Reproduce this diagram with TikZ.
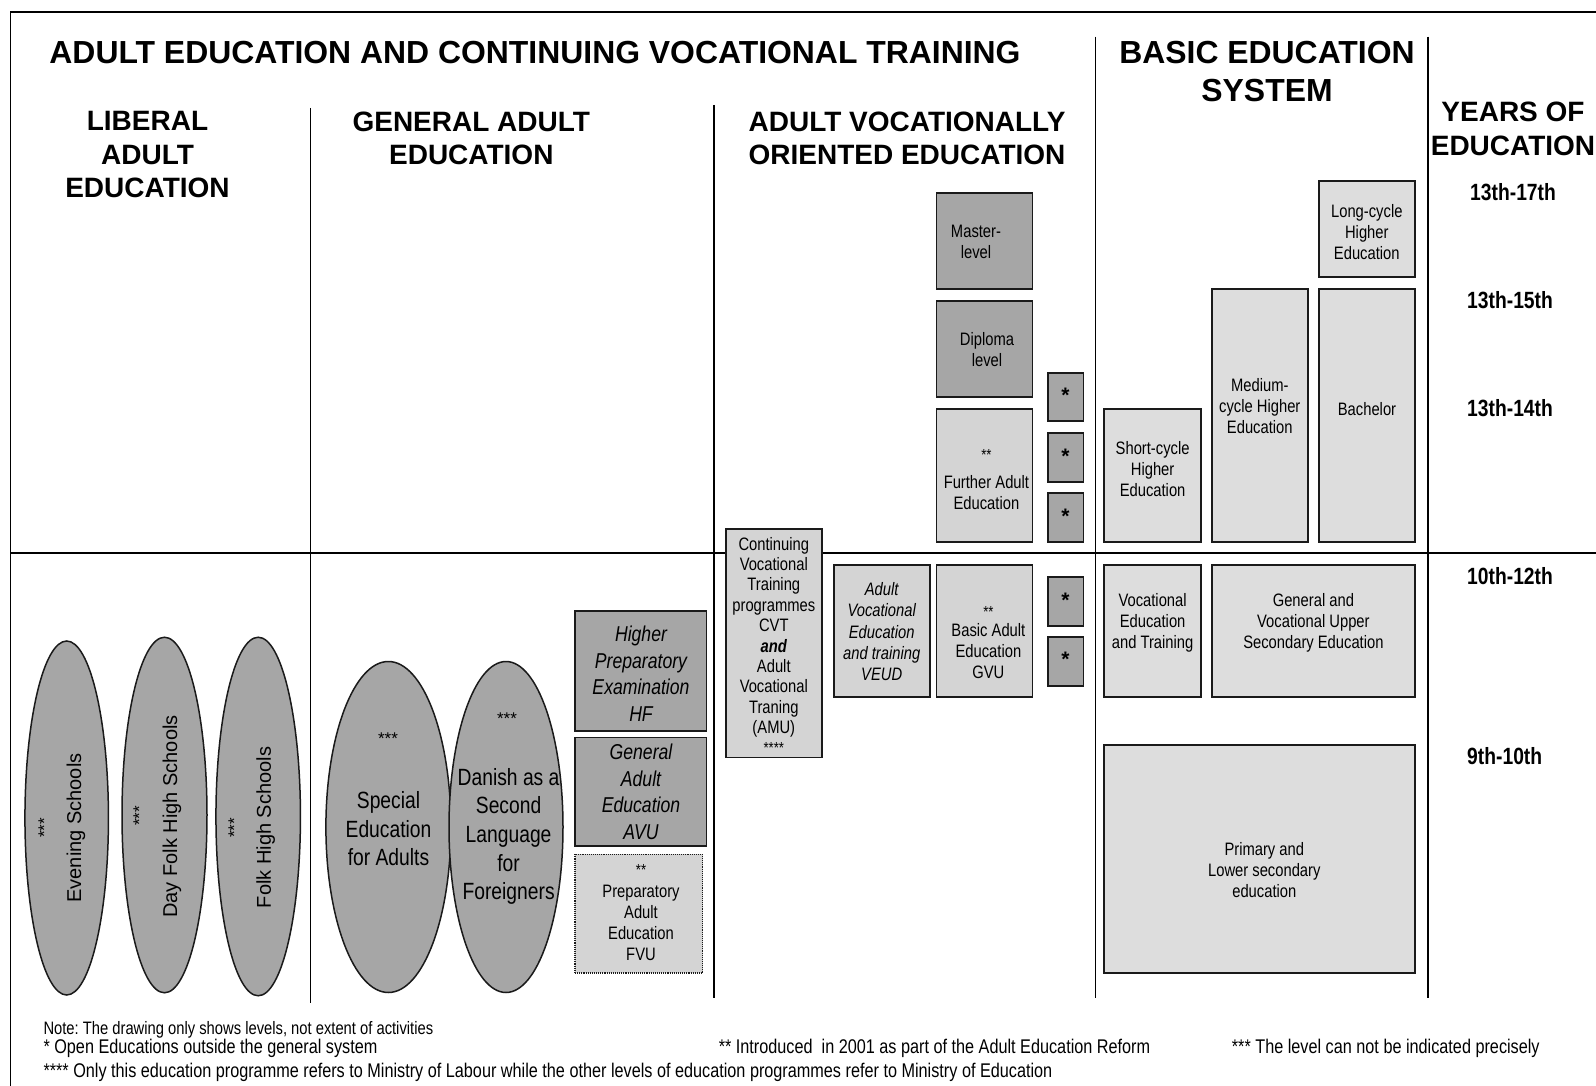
\documentclass[tikz,border=0pt]{standalone}
\usepackage{fontspec}
\setmainfont{Liberation Sans}
\newfontfamily\narrowfont[FakeStretch=0.82]{Liberation Sans}
\usetikzlibrary{shapes.geometric}
\definecolor{darkfill}{HTML}{A6A6A6}
\definecolor{midfill}{HTML}{D4D4D4}
\definecolor{lightfill}{HTML}{DDDDDD}
\definecolor{edgecol}{HTML}{1A1A1A}
\frenchspacing
\newcommand\mkbox[6]{\node[#2, minimum width={(#5)-(#3)}, minimum height={(#6)-(#4)}] (#1) at ({((#3)+(#5))/2},{((#4)+(#6))/2}) {};}
\tikzset{
  frameline/.style={line width=1.8pt, draw=black},
  divline/.style={line width=1.4pt, draw=black},
  boxbase/.style={rectangle, draw=edgecol, line width=1.8pt, inner sep=0pt},
  darkbox/.style={boxbase, fill=darkfill},
  midbox/.style={boxbase, fill=midfill},
  lightbox/.style={boxbase, fill=lightfill},
  dotbox/.style={rectangle, draw=edgecol, line width=1.1pt, densely dotted, fill=midfill, inner sep=0pt},
  oval/.style={ellipse, draw=edgecol, line width=1.5pt, fill=darkfill, inner sep=0pt},
  txt/.style={align=center, inner sep=0pt, font=\narrowfont\fontsize{18}{21}\selectfont},
  txtcvt/.style={align=center, inner sep=0pt, font=\narrowfont\fontsize{18}{20.4}\selectfont},
  txtveud/.style={align=center, inner sep=0pt, font=\narrowfont\itshape\fontsize{18}{21.4}\selectfont},
  txtit/.style={align=center, inner sep=0pt, font=\narrowfont\itshape\fontsize{21.5}{26.5}\selectfont},
  txtbig/.style={align=center, inner sep=0pt, font=\narrowfont\fontsize{23.5}{28.6}\selectfont},
  vtxt/.style={rotate=90, inner sep=0pt, font=\fontsize{20}{24}\selectfont},
  sstars/.style={inner sep=0pt, font=\fontsize{17}{19}\selectfont},
  starbox/.style={darkbox, font=\bfseries\fontsize{21}{24}\selectfont, text height=1.11em, text depth=0pt},
  headbig/.style={align=center, inner sep=0pt, font=\bfseries\fontsize{31.9}{37.6}\selectfont},
  headcol/.style={align=center, inner sep=0pt, font=\bfseries\fontsize{28}{33.4}\selectfont},
  headyr/.style={align=center, inner sep=0pt, font=\bfseries\fontsize{28}{34}\selectfont},
  yearlab/.style={anchor=west, inner sep=0pt, font=\narrowfont\bfseries\fontsize{23.5}{28}\selectfont},
  foot/.style={anchor=base west, inner sep=0pt, font=\narrowfont\fontsize{19.8}{22}\selectfont},
  footsmall/.style={anchor=base west, inner sep=0pt, font=\narrowfont\fontsize{18}{20}\selectfont},
}
\newcommand\smst[1]{{\fontsize{16}{18}\selectfont #1}}
\begin{document}
\begin{tikzpicture}[x=1pt,y=-1pt]
\useasboundingbox (0,0) rectangle (1596,1086);
\clip (0,0) rectangle (1596,1086);
\fill[white] (0,0) rectangle (1596,1086);

% frame and dividers
\coordinate (ftl) at (10.5,12);
\coordinate (ftr) at (1600,12);
\coordinate (fbl) at (10.5,1092);
\draw[frameline] (ftr) -- (ftl) -- (fbl);
\coordinate (hl) at (10.5,553);
\coordinate (hr) at (1600,553);
\draw[divline] (hl) -- (hr);
\coordinate (d1t) at (310.5,108); \coordinate (d1b) at (310.5,1002.6);
\coordinate (d2t) at (713.8,105); \coordinate (d2b) at (713.8,997.5);
\coordinate (d3t) at (1095.5,36.6); \coordinate (d3b) at (1095.5,997.5);
\coordinate (d4t) at (1428,36.6); \coordinate (d4b) at (1428,997.5);
\draw[divline] (d1t) -- (d1b);
\draw[divline] (d2t) -- (d2b);
\draw[divline] (d3t) -- (d3b);
\draw[divline] (d4t) -- (d4b);

% headings
\node[headbig] (title) at (535,53) {ADULT EDUCATION AND CONTINUING VOCATIONAL TRAINING};
\node[headbig] (basic) at (1267,71.8) {BASIC EDUCATION\\SYSTEM};
\node[headcol] (liberal) at (147.5,154.7) {LIBERAL\\ADULT\\EDUCATION};
\node[headcol] (general) at (471.3,138.4) {GENERAL ADULT\\EDUCATION};
\node[headcol] (vocational) at (907,138.4) {ADULT VOCATIONALLY\\ORIENTED EDUCATION};
\node[headyr] (years) at (1513,128.8) {YEARS OF\\EDUCATION};

% year labels
\node[yearlab] (y1) at (1470,192.4) {13th-17th};
\node[yearlab] (y2) at (1467,300.3) {13th-15th};
\node[yearlab] (y3) at (1467,408.2) {13th-14th};
\node[yearlab] (y4) at (1467,576.5) {10th-12th};
\node[yearlab] (y5) at (1467,756.3) {9th-10th};

% liberal adult education ellipses
\node[oval, minimum width=83.5, minimum height=354] (evening) at (66.7,818) {};
\node[oval, minimum width=85, minimum height=355.5] (dayfolk) at (164.5,815) {};
\node[oval, minimum width=84.5, minimum height=358.5] (folk) at (258.2,816.5) {};
\node[vtxt] (eveningt) at (76,828) {Evening Schools};
\node[sstars, rotate=90] (evenings) at (44.2,828) {***};
\node[vtxt] (dayfolkt) at (172,816.5) {Day Folk High Schools};
\node[sstars, rotate=90] (dayfolks) at (139.3,816) {***};
\node[vtxt] (folkt) at (265.6,827.5) {Folk High Schools};
\node[sstars, rotate=90] (folks) at (234.3,828) {***};

% general adult education
\node[oval, minimum width=125, minimum height=331] (special) at (388.4,827) {};
\node[oval, minimum width=114, minimum height=331] (danish) at (506,827) {};
\node[sstars] (specials) at (388,738.7) {***};
\node[txtbig] (specialt) at (388.5,828.6) {Special\\Education\\for Adults};
\node[sstars] (danishs) at (507,718.7) {***};
\node[txtbig] (danisht) at (508.6,836.5) {Danish as a\\Second\\Language\\for\\Foreigners};

\mkbox{hf}{darkbox}{575}{610.7}{706.4}{731.3}
\node[txtit] (hft) at (641,673.5) {Higher\\Preparatory\\Examination\\HF};
\mkbox{avu}{darkbox}{575}{737.5}{706.4}{845.7}
\node[txtit] (avut) at (641,792) {General\\Adult\\Education\\AVU};
\mkbox{fvu}{dotbox}{575}{854.3}{702.6}{973}
\node[txt] (fvut) at (641,912.6) {\smst{**}\\[1.6pt]Preparatory\\Adult\\Education\\FVU};

% adult vocationally oriented education
\mkbox{cvt}{midbox}{726}{529}{821.8}{757.5}
\node[txtcvt] (cvtt) at (773.8,645.5) {Continuing\\Vocational\\Training\\programmes\\CVT\\\textbf{\textit{and}}\\Adult\\Vocational\\Traning\\(AMU)\\[-0.3pt]\smst{****}};
\mkbox{veud}{midbox}{834}{565}{930}{697.3}
\node[txtveud] (veudt) at (881.7,631.6) {Adult\\Vocational\\Education\\and training\\VEUD};
\mkbox{gvu}{midbox}{936.4}{565}{1032.4}{697.3}
\node[txt] (gvut) at (988.4,642.8) {\smst{**}\\[-1.5pt]Basic Adult\\Education\\GVU};
\mkbox{master}{darkbox}{936.4}{192.8}{1032.4}{289.2}
\node[txt] (mastert) at (976,241.5) {Master-\\level};
\mkbox{diploma}{darkbox}{936.4}{301.2}{1032.4}{397.2}
\node[txt] (diplomat) at (987,350) {Diploma\\level};
\mkbox{further}{midbox}{936.4}{408.8}{1032.4}{541.6}
\node[txt] (furthert) at (986.4,479.5) {\smst{**}\\[7pt]Further Adult\\Education};

\node[starbox, minimum width=35.8, minimum height=48.6] (st1) at (1065.5,397) {*};
\node[starbox, minimum width=35.8, minimum height=48.6] (st2) at (1065.5,457.5) {*};
\node[starbox, minimum width=35.8, minimum height=48.6] (st3) at (1065.5,517.5) {*};
\node[starbox, minimum width=35.8, minimum height=48.4] (st4) at (1065.5,601.5) {*};
\node[starbox, minimum width=35.8, minimum height=49] (st5) at (1065.5,661.2) {*};

% basic education system
\mkbox{long}{lightbox}{1319}{181}{1414.7}{277.3}
\node[txt] (longt) at (1366.8,232.5) {Long-cycle\\Higher\\Education};
\mkbox{medium}{lightbox}{1212}{288.6}{1307.7}{541.6}
\node[txt] (mediumt) at (1259.8,406.3) {Medium-\\cycle Higher\\Education};
\mkbox{bachelor}{lightbox}{1319}{288.6}{1414.7}{541.6}
\node[txt] (bachelort) at (1367,409.3) {Bachelor};
\mkbox{short}{lightbox}{1104.3}{408.8}{1201}{541.6}
\node[txt] (shortt) at (1152.6,469.3) {Short-cycle\\Higher\\Education};
\mkbox{vet}{lightbox}{1104.3}{564.6}{1201}{697.3}
\node[txt] (vett) at (1152.6,622.5) {Vocational\\Education\\and Training};
\mkbox{gvuse}{lightbox}{1212}{564.6}{1414.7}{697.3}
\node[txt] (gvuset) at (1313.4,622.5) {General and\\Vocational Upper\\Secondary Education};
\mkbox{primary}{lightbox}{1104.3}{745}{1414.7}{973.3}
\node[txt] (primaryt) at (1264.3,869.7) {Primary and\\Lower secondary\\education};

% footnotes
\node[footsmall] (note0) at (43.3,1034.3) {Note: The drawing only shows levels, not extent of activities};
\node[foot] (note1) at (43.3,1053.8) {* Open Educations outside the general system};
\node[foot] (note2) at (718.6,1053.8) {** Introduced~ in 2001 as part of the Adult Education Reform};
\node[foot] (note3) at (1231.7,1053.8) {*** The level can not be indicated precisely};
\node[foot] (note4) at (43.3,1077.3) {**** Only this education programme refers to Ministry of Labour while the other levels of education programmes refer to Ministry of Education};
\end{tikzpicture}
\end{document}
